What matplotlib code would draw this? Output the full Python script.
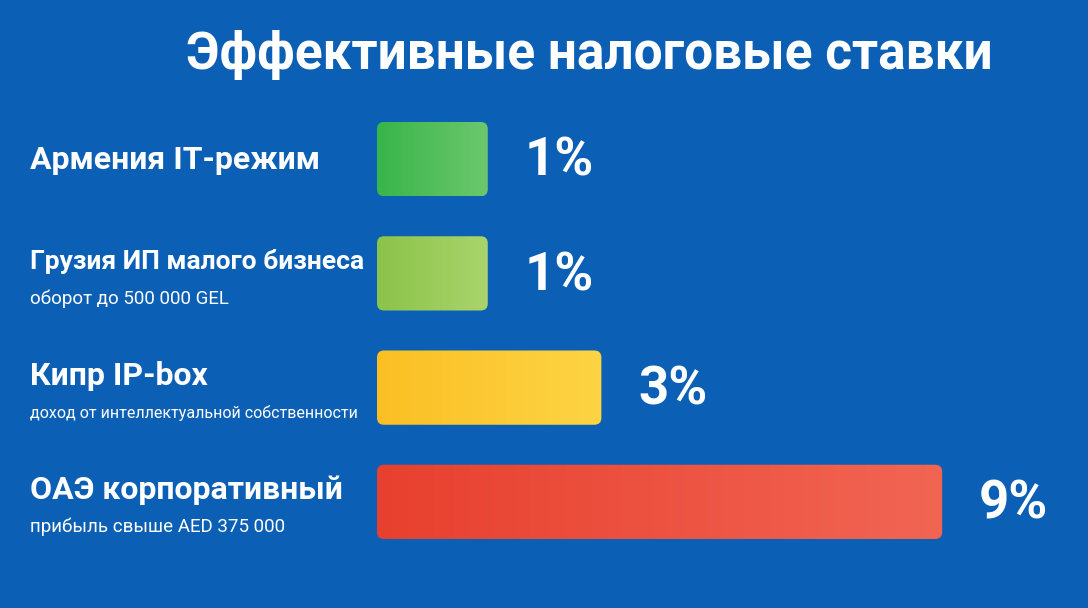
import numpy as np
import matplotlib
matplotlib.use("Agg")
import matplotlib.pyplot as plt
from matplotlib.patches import FancyBboxPatch
from matplotlib.colors import LinearSegmentedColormap
import matplotlib.transforms as mtransforms

plt.rcParams['font.family'] = ['Roboto', 'DejaVu Sans']

title = 'Эффективные налоговые ставки'
labels = ['Армения IT-режим', 'Грузия ИП малого бизнеса', 'Кипр IP-box', 'ОАЭ корпоративный']
sublabels = ['', 'оборот до 500 000 GEL', 'доход от интеллектуальной собственности',
             'прибыль свыше AED 375 000']
rates = [1, 1, 3, 9]
colors_start = ['#39b54a', '#8bc34a', '#fbbf24', '#e8402f']
colors_end = ['#6cc76d', '#aad46c', '#fdd444', '#f26553']

bg = '#0b60b6'
base = 0.95  # bars start a bit left of zero, as in the original

fig = plt.figure(figsize=(10.88, 6.08), dpi=100, facecolor=bg)
ax = fig.add_axes([377 / 1088, 49 / 608, 711 / 1088, 457 / 608])
ax.set_facecolor(bg)
ax.set_xlim(-base, -base + 711 / 56.8)
ax.set_ylim(len(rates) - 0.5, -0.5)
ax.axis('off')

# aspect for rounded corners (data units per pixel)
px_x = (ax.get_xlim()[1] - ax.get_xlim()[0]) / 711
px_y = len(rates) / 457
bar_h = 0.65

for i, v in enumerate(rates):
    x0, w = -base, v + base
    y0 = i - bar_h / 2
    patch = FancyBboxPatch((x0, y0), w, bar_h,
                           boxstyle='round,pad=0,rounding_size=%f' % (7 * px_x),
                           mutation_aspect=px_y / px_x,
                           facecolor='none', edgecolor='none')
    ax.add_patch(patch)
    cmap = LinearSegmentedColormap.from_list('g%d' % i, [colors_start[i], colors_end[i]])
    grad = np.linspace(0, 1, 256).reshape(1, -1)
    im = ax.imshow(grad, cmap=cmap, aspect='auto', extent=(x0, x0 + w, y0 + bar_h, y0),
                   interpolation='bilinear')
    im.set_clip_path(patch)
    ax.text(v + 0.65, i + 0.02, '%d%%' % v, color='white', fontsize=38,
            fontweight='bold', ha='left', va='center')

renderer = fig.canvas.get_renderer()


def fit_text(t, max_px):
    # shrink a label until it fits left of the bars
    while t.get_window_extent(renderer).width > max_px:
        t.set_fontsize(t.get_fontsize() - 0.5)


trans = mtransforms.blended_transform_factory(fig.transFigure, ax.transData)
for i, (lab, sub) in enumerate(zip(labels, sublabels)):
    if sub:
        t = ax.text(30 / 1088, i - 0.1, lab, transform=trans, color='white', fontsize=23,
                    fontweight='bold', ha='left', va='center')
        fit_text(t, 335)
        s = ax.text(30 / 1088, i + 0.22, sub, transform=trans, color='white', fontsize=13.5,
                    ha='left', va='center')
        fit_text(s, 330)
    else:
        t = ax.text(30 / 1088, i + 0.01, lab, transform=trans, color='white', fontsize=23,
                    fontweight='bold', ha='left', va='center')
        fit_text(t, 335)

fig.text(589 / 1088, 1 - 55 / 608, title, color='white', fontsize=37,
         fontweight='bold', ha='center', va='center')

fig.savefig('out.png', dpi=100, facecolor=bg)
